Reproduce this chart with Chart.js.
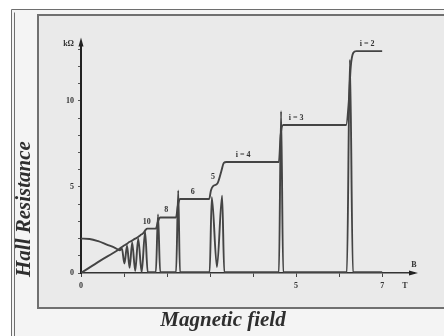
<!DOCTYPE html>
<html>
<head>
<meta charset="utf-8">
<script src="https://cdn.jsdelivr.net/npm/chart.js@4.4.1/dist/chart.umd.min.js"></script>
<style>
  html, body { margin: 0; padding: 0; background: #fff; }
</style>
</head>
<body>
<canvas id="hall" width="444" height="336"></canvas>
<script>
// Hall resistance (kΩ) against magnetic field (T)
const hallB = [0, 0.45, 0.86, 1.0, 1.06, 1.12, 1.18, 1.25, 1.31, 1.38, 1.44, 1.50, 1.54,
               1.74, 1.79, 1.84, 2.21, 2.25, 2.30, 2.98, 3.02, 3.07, 3.17, 3.26, 3.32, 3.38,
               4.60, 4.64, 4.70, 6.16, 6.22, 6.27, 6.33, 6.40, 7.0];
const hallR = [0, 0.72, 1.34, 1.60, 1.68, 1.80, 1.87, 1.98, 2.06, 2.20, 2.30, 2.50, 2.58,
               2.58, 3.00, 3.23, 3.23, 3.90, 4.30, 4.30, 4.80, 5.05, 5.20, 5.90, 6.40, 6.45,
               6.45, 8.00, 8.60, 8.60, 9.80, 12.0, 12.8, 12.9, 12.9];

// longitudinal resistance (the peaks)
const rxxB = [0, 0.2, 0.4, 0.6, 0.8, 0.9, 0.95, 1.01, 1.07, 1.13, 1.19, 1.26, 1.33, 1.41,
              1.49, 1.55, 1.74, 1.79, 1.84, 2.21, 2.26, 2.30, 2.99, 3.04, 3.16, 3.28, 3.33,
              4.60, 4.65, 4.70, 6.18, 6.25, 6.32, 7.0];
const rxxR = [2.0, 1.98, 1.85, 1.65, 1.45, 1.32, 1.42, 0.55, 1.58, 0.30, 1.78, 0.12, 2.0, 0.05,
              2.4, 0.05, 0.05, 3.4, 0.05, 0.05, 4.8, 0.05, 0.05, 4.4, 0.35, 4.5, 0.05,
              0.05, 9.4, 0.05, 0.05, 12.4, 0.05, 0.05];

// plateau labels
const plateauNames = ['i = 2', 'i = 3', 'i = 4', '5', '6', '8', '10'];
const plateauB = [6.65, 5.0, 3.77, 3.07, 2.6, 1.98, 1.53];
const plateauR = [12.9, 8.6, 6.45, 5.16, 4.3, 3.23, 2.58];

// axis ticks
const xTicks = [0, 1, 2, 3, 4, 5, 6, 7];
const xTickText = ['0', '', '', '', '', '5', '', '7'];
const yTicks = [0, 1, 2, 3, 4, 5, 6, 7, 8, 9, 10, 11, 12, 13];
const yTickText = ['0', '', '', '', '', '5', '', '', '', '', '10', '', '', ''];
const xUnit = { value: 7.53, text: 'T' };
const yUnit = { value: 13.3, text: 'kΩ' };

const INK = '#444444';
const tickFont = { family: 'Liberation Serif', size: 8, weight: 'bold' };

const toPoints = (xs, ys) => xs.map((x, i) => ({ x: x, y: ys[i] }));

// the paper, the panel and its borders
const paperPlugin = {
    id: 'paper',
    beforeDraw(chart) {
        const ctx = chart.ctx;
        ctx.save();
        ctx.fillStyle = '#ffffff';
        ctx.fillRect(0, 0, 444, 336);
        ctx.fillStyle = '#f4f4f4';
        ctx.fillRect(12, 10, 432, 326);
        ctx.strokeStyle = '#6e6e6e';
        ctx.lineWidth = 1;
        ctx.beginPath();
        ctx.moveTo(11.5, 336); ctx.lineTo(11.5, 9.5); ctx.lineTo(444, 9.5);
        ctx.moveTo(14.5, 336); ctx.lineTo(14.5, 12.5);
        ctx.stroke();
        ctx.fillStyle = '#eaeaea';
        ctx.fillRect(38, 15, 406, 293);
        ctx.strokeStyle = '#707070';
        ctx.lineWidth = 2;
        ctx.beginPath();
        ctx.moveTo(444, 15); ctx.lineTo(38, 15); ctx.lineTo(38, 308); ctx.lineTo(444, 308);
        ctx.stroke();
        ctx.restore();
    }
};

// arrows, plateau labels and axis titles
const notesPlugin = {
    id: 'notes',
    afterDraw(chart) {
        const ctx = chart.ctx;
        const area = chart.chartArea;
        const xs = chart.scales.x;
        const ys = chart.scales.y;
        ctx.save();
        ctx.fillStyle = '#222';
        // y arrow
        ctx.beginPath();
        ctx.moveTo(area.left, area.top - 5);
        ctx.lineTo(area.left - 2.5, area.top + 4);
        ctx.lineTo(area.left + 2.5, area.top + 4);
        ctx.closePath();
        ctx.fill();
        // x arrow
        ctx.beginPath();
        ctx.moveTo(area.right + 4, area.bottom);
        ctx.lineTo(area.right - 5, area.bottom - 2.5);
        ctx.lineTo(area.right - 5, area.bottom + 2.5);
        ctx.closePath();
        ctx.fill();

        ctx.font = 'bold 8px "Liberation Serif"';
        ctx.textAlign = 'center';
        ctx.textBaseline = 'alphabetic';
        ctx.fillStyle = '#333';
        ctx.fillText('B', area.right, area.bottom - 6);
        plateauNames.forEach((name, i) => {
            const px = xs.getPixelForValue(plateauB[i]);
            const py = ys.getPixelForValue(plateauR[i]);
            ctx.fillText(name, px, py - 5);
        });

        ctx.fillStyle = '#2e2e2e';
        ctx.font = 'italic bold 21px "Liberation Serif"';
        ctx.textBaseline = 'middle';
        ctx.fillText('Magnetic field', 223, 321);
        ctx.translate(25, 277);
        ctx.rotate(-Math.PI / 2);
        ctx.textAlign = 'left';
        ctx.fillText('Hall Resistance', 0, 0);
        ctx.restore();
    }
};

new Chart(document.getElementById('hall'), {
    type: 'line',
    data: {
        datasets: [
            {
                label: 'Hall resistance',
                data: toPoints(hallB, hallR),
                borderColor: INK,
                borderWidth: 1.9,
                pointRadius: 0,
                cubicInterpolationMode: 'monotone',
                fill: false
            },
            {
                label: 'Longitudinal resistance',
                data: toPoints(rxxB, rxxR),
                borderColor: INK,
                borderWidth: 1.9,
                pointRadius: 0,
                cubicInterpolationMode: 'monotone',
                fill: false
            }
        ]
    },
    options: {
        responsive: false,
        animation: false,
        layout: { padding: { left: 0, right: 30, top: 42.5, bottom: 0 } },
        plugins: {
            legend: { display: false },
            tooltip: { enabled: false }
        },
        scales: {
            x: {
                type: 'linear',
                min: 0,
                max: 7.74,
                afterFit(scale) { scale.height = 63; },
                afterBuildTicks(scale) {
                    scale.ticks = xTicks.map(v => ({ value: v })).concat([{ value: xUnit.value }]);
                },
                border: { color: '#333', width: 1.5 },
                grid: {
                    drawOnChartArea: false,
                    tickLength: 4,
                    tickColor: c => (c.tick && c.tick.value === xUnit.value) ? 'rgba(0,0,0,0)' : '#444'
                },
                ticks: {
                    autoSkip: false,
                    maxRotation: 0,
                    padding: 4,
                    color: '#333',
                    font: tickFont,
                    callback: v => v === xUnit.value ? xUnit.text : (xTickText[xTicks.indexOf(v)] || '')
                }
            },
            y: {
                type: 'linear',
                min: 0,
                max: 13.4,
                afterFit(scale) { scale.width = 81; },
                afterBuildTicks(scale) {
                    scale.ticks = yTicks.map(v => ({ value: v })).concat([{ value: yUnit.value }]);
                },
                border: { color: '#222', width: 2 },
                grid: {
                    drawOnChartArea: false,
                    tickLength: 3,
                    tickColor: c => (c.tick && c.tick.value === yUnit.value) ? 'rgba(0,0,0,0)' : '#555'
                },
                ticks: {
                    autoSkip: false,
                    padding: 4,
                    color: '#333',
                    font: tickFont,
                    callback: v => v === yUnit.value ? yUnit.text : (yTickText[yTicks.indexOf(v)] || '')
                }
            }
        }
    },
    plugins: [paperPlugin, notesPlugin]
});
</script>
</body>
</html>
